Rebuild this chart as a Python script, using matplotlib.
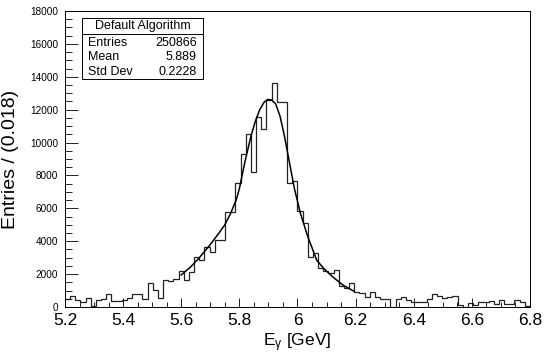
import numpy as np
import matplotlib.pyplot as plt
from matplotlib.patches import Rectangle
from matplotlib.ticker import MultipleLocator

plt.rcParams['font.family'] = ['Liberation Sans', 'DejaVu Sans']
plt.rcParams['mathtext.fontset'] = 'custom'
plt.rcParams['mathtext.rm'] = 'Liberation Sans'
plt.rcParams['mathtext.it'] = 'Liberation Sans'

# histogram: 90 bins between 5.2 and 6.8 GeV
x_min, x_max, n_bins = 5.2, 6.8, 90
counts = [
    500, 680, 430, 330, 530, 60, 430, 470, 770, 370,
    370, 430, 560, 770, 770, 470, 1480, 1040, 530, 1650,
    1590, 1690, 2210, 1650, 2150, 3030, 2870, 3640, 3370, 4050,
    4050, 5750, 5750, 7540, 9310, 10550, 8200, 11570, 10840, 12600,
    13650, 12460, 12460, 7560, 7650, 5810, 5100, 3050, 3290, 2380,
    2200, 2070, 2250, 1280, 1160, 1460, 935, 870, 630, 935,
    610, 490, 490, 20, 490, 600, 430, 330, 330, 320,
    500, 800, 650, 550, 620, 680, 120, 10, 230, 150,
    320, 330, 380, 180, 420, 200, 180, 450, 320, 60,
]

# fit curve, points
fit_x = [5.60, 5.63, 5.66, 5.70, 5.73, 5.75, 5.77, 5.79, 5.80, 5.82,
         5.84, 5.855, 5.87, 5.885, 5.897, 5.91, 5.925, 5.94, 5.955, 5.97,
         5.99, 6.01, 6.035, 6.066, 6.09, 6.12, 6.155, 6.195]
fit_y = [1950, 2400, 2950, 3800, 4500, 5000, 5700, 6550, 7200, 8900,
         10400, 11300, 12000, 12450, 12620, 12600, 12350, 11600, 10400, 9000,
         7150, 5700, 4300, 2850, 2350, 1850, 1350, 950]

stats_title = 'Default Algorithm'
stats_names = ['Entries', 'Mean', 'Std Dev']
stats_values = ['250866', '5.889', '0.2228']

fig = plt.figure(figsize=(5.5, 3.56), dpi=100)
ax = fig.add_axes([65 / 550, 1 - 307 / 356, 465 / 550, 296 / 356])

edges = np.linspace(x_min, x_max, n_bins + 1)
ax.stairs(counts, edges, color='#222222', linewidth=0.9, baseline=None)
ax.plot(fit_x, fit_y, color='black', linewidth=1.1)

ax.set_xlim(x_min, x_max)
ax.set_ylim(0, 18000)

ax.xaxis.set_minor_locator(MultipleLocator(0.05))
ax.yaxis.set_major_locator(MultipleLocator(2000))
ax.yaxis.set_minor_locator(MultipleLocator(500))
ax.set_xticks(np.arange(5.2, 6.81, 0.2))
ax.set_xticklabels(['5.2', '5.4', '5.6', '5.8', '6', '6.2', '6.4', '6.6', '6.8'])

ax.tick_params(axis='x', which='major', direction='in', length=6.5, width=0.6,
               labelsize=12.5, pad=4)
ax.tick_params(axis='x', which='minor', direction='in', length=3.3, width=0.6)
ax.tick_params(axis='y', which='major', direction='in', length=9, width=0.6,
               labelsize=7.2, pad=5)
ax.tick_params(axis='y', which='minor', direction='in', length=4.7, width=0.6)
for s in ax.spines.values():
    s.set_linewidth(0.7)

ax.set_xlabel(r'E$_{\mathregular{\gamma}}$ [GeV]', fontsize=12.5, labelpad=3)
ax.set_ylabel('Entries / (0.018)', fontsize=14, labelpad=8)

# stats box
bx0, bx1 = 82 / 550, 203 / 550
by_top, by_bot, by_sep = 1 - 18 / 356, 1 - 79 / 356, 1 - 34 / 356
fig.add_artist(Rectangle((bx0, by_bot), bx1 - bx0, by_top - by_bot,
                         transform=fig.transFigure, facecolor='white',
                         edgecolor='black', linewidth=0.7))
fig.add_artist(plt.Line2D([bx0, bx1], [by_sep, by_sep], transform=fig.transFigure,
                          color='black', linewidth=0.7))
fig.text((bx0 + bx1) / 2, 1 - 26.5 / 356, stats_title, ha='center', va='center', fontsize=9)
row_y = [43, 57.5, 72]
for name, val, yy in zip(stats_names, stats_values, row_y):
    fig.text(88 / 550, 1 - yy / 356, name, ha='left', va='center', fontsize=9)
    fig.text(197 / 550, 1 - yy / 356, val, ha='right', va='center', fontsize=9)

fig.savefig('out.png', dpi=100)
